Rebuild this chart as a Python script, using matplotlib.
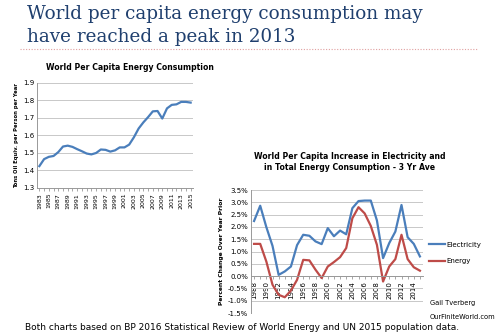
import numpy as np
import matplotlib
matplotlib.use("Agg")
import matplotlib.pyplot as plt

# left chart: world per capita energy consumption (toe/person/yr)
years_a = list(range(1983, 2016))
energy_pc = [1.425, 1.465, 1.478, 1.483, 1.505, 1.537, 1.542, 1.535, 1.522, 1.510,
             1.497, 1.492, 1.500, 1.520, 1.518, 1.508, 1.515, 1.532, 1.532, 1.548,
             1.590, 1.640, 1.675, 1.705, 1.738, 1.740, 1.697, 1.755, 1.775, 1.778,
             1.792, 1.792, 1.788]

# right chart: 3 yr average % change
years_b = list(range(1988, 2016))
elec = [2.24, 2.86, 1.99, 1.23, 0.05, 0.19, 0.39, 1.26, 1.68, 1.64,
        1.41, 1.30, 1.95, 1.62, 1.85, 1.70, 2.76, 3.05, 3.07, 3.07,
        2.26, 0.73, 1.34, 1.81, 2.89, 1.58, 1.31, 0.80]
energy = [1.31, 1.31, 0.59, -0.35, -0.76, -0.86, -0.59, -0.15, 0.66, 0.64,
          0.26, -0.08, 0.39, 0.57, 0.77, 1.14, 2.35, 2.80, 2.55, 2.04,
          1.27, -0.22, 0.39, 0.69, 1.68, 0.69, 0.36, 0.22]

BLUE = "#4a7ebb"
RED = "#be4b48"
GRID = "#c8c8c8"
W, H = 500, 336

fig = plt.figure(figsize=(5, 3.36), dpi=100)

def box(x0, y0, x1, y1):
    return [x0 / W, 1 - y1 / H, (x1 - x0) / W, (y1 - y0) / H]

# headline
fig.text(27 / W, 1 - 14 / H, "World per capita energy consumption may", family="DejaVu Serif",
         fontsize=13.2, color="#1f3f6e", va="center", ha="left")
fig.text(27 / W, 1 - 37 / H, "have reached a peak in 2013", family="DejaVu Serif",
         fontsize=13.2, color="#1f3f6e", va="center", ha="left")
fig.add_artist(plt.Line2D([20 / W, 478 / W], [1 - 49 / H, 1 - 49 / H], color="#e0a0a0",
                          lw=0.8, ls=(0, (1, 1.5))))

# ---- left chart
ax1 = fig.add_axes(box(37, 83, 193, 188))
ax1.plot(years_a, energy_pc, color=BLUE, lw=1.6)
ax1.set_ylim(1.3, 1.9)
ax1.set_xlim(years_a[0] - 0.5, years_a[-1] + 0.5)
ax1.set_yticks(np.arange(1.3, 1.91, 0.1))
ax1.set_yticklabels(["%.1f" % v for v in np.arange(1.3, 1.91, 0.1)], fontsize=5)
ax1.set_xticks(years_a, minor=True)
ax1.set_xticks(years_a[::2])
ax1.set_xticklabels([str(y) for y in years_a[::2]], rotation=90, fontsize=4.5)
ax1.grid(axis="y", color=GRID, lw=0.7)
ax1.set_axisbelow(True)
for s in ["top", "right"]:
    ax1.spines[s].set_visible(False)
for s in ["left", "bottom"]:
    ax1.spines[s].set_color("#999999")
    ax1.spines[s].set_linewidth(0.7)
ax1.tick_params(axis="y", length=0, pad=2)
ax1.tick_params(axis="x", which="both", length=2.5, width=0.6, color="#999999", pad=1)
ax1.set_ylabel("Tons Oil Equiv. per Person per Year", fontsize=3.8, fontweight="bold", labelpad=3)
fig.text(130 / W, 1 - 67 / H, "World Per Capita Energy Consumption", fontsize=5.6,
         fontweight="bold", ha="center", va="center")

# ---- right chart
ax2 = fig.add_axes(box(251, 190, 423, 313))
ax2.spines["bottom"].set_position(("data", 0))
ax2.plot(years_b, elec, color=BLUE, lw=1.6, label="Electricity")
ax2.plot(years_b, energy, color=RED, lw=1.6, label="Energy")
ax2.set_ylim(-1.5, 3.5)
ax2.set_xlim(years_b[0] - 0.5, years_b[-1] + 0.5)
yt = np.arange(-1.5, 3.51, 0.5)
ax2.set_yticks(yt)
ax2.set_yticklabels(["%.1f%%" % v for v in yt], fontsize=5)
ax2.set_xticks(years_b, minor=True)
ax2.set_xticks(years_b[::2])
ax2.set_xticklabels([str(y) for y in years_b[::2]], rotation=90, fontsize=5)
ax2.grid(axis="y", color=GRID, lw=0.7)
ax2.set_axisbelow(True)
for s in ["top", "right"]:
    ax2.spines[s].set_visible(False)
for s in ["left", "bottom"]:
    ax2.spines[s].set_color("#999999")
    ax2.spines[s].set_linewidth(0.7)
ax2.tick_params(axis="y", length=0, pad=2)
ax2.tick_params(axis="x", which="both", length=2.5, width=0.6, color="#999999", pad=1)
ax2.set_ylabel("Percent Change Over Year Prior", fontsize=4.3, fontweight="bold", labelpad=3)
fig.text(350 / W, 1 - 162 / H,
         "World Per Capita Increase in Electricity and\nin Total Energy Consumption - 3 Yr Ave",
         fontsize=5.6, fontweight="bold", ha="center", va="center", linespacing=1.35)
ax2.legend(loc="center left", bbox_to_anchor=(1.0, 0.49), frameon=False, fontsize=5,
           handlelength=2.2, handletextpad=0.3, labelspacing=1.5)

fig.text(430 / W, 1 - 303 / H, "Gail Tverberg", fontsize=4.8, va="center", ha="left")
fig.text(430 / W, 1 - 317 / H, "OurFiniteWorld.com", fontsize=4.8, va="center", ha="left")

fig.text(25 / W, 1 - 328 / H, "Both charts based on BP 2016 Statistical Review of World Energy and UN 2015 population data.",
         fontsize=6.5, va="center", ha="left")

fig.savefig("out.png", dpi=100)
